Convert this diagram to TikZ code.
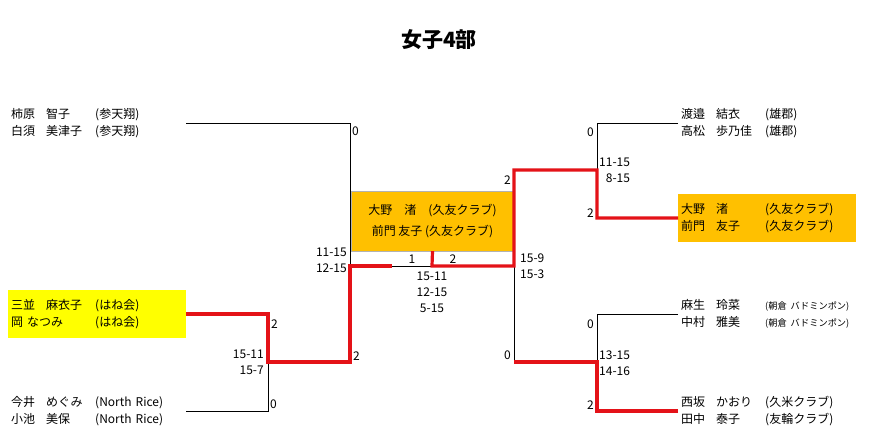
\documentclass[tikz,border=0pt]{standalone}
\usepackage{fontspec}
\setmainfont{Noto Sans CJK JP}
\usepackage{tikz}
\usetikzlibrary{positioning}

\definecolor{winred}{RGB}{228,18,24}
\definecolor{winorange}{RGB}{255,192,0}
\definecolor{winyellow}{RGB}{255,255,0}

% family name, given name, club in fixed columns
\newcommand{\entryline}[3]{\makebox[35pt][l]{#1}\makebox[49pt][l]{#2}#3}
\newcommand{\smallclub}[1]{{\fontsize{9.2}{10}\selectfont #1}}

\begin{document}
\begin{tikzpicture}[x=1pt,y=-1pt,
    player/.style={anchor=west, minimum height=48pt, text width=172pt, inner xsep=3pt, inner ysep=0pt, align=left, font=\fontsize{12}{16.5}\selectfont},
    score/.style={inner sep=1pt, font=\fontsize{12}{16}\selectfont},
    lose/.style={black, line width=0.9pt},
    win/.style={winred, line width=3.2pt}]
    \useasboundingbox (0,0) rectangle (878,435);

    % title
    \node[font=\fontsize{21}{24}\selectfont\bfseries] (title) at (439,40) {女子4部};

    % left half
    \node[player] (p1) at (8,123) {\entryline{柿原}{智子}{(参天翔)}\\\entryline{白須}{美津子}{(参天翔)}};
    \node[player, fill=winyellow] (p2) at (8,314) {\entryline{三並}{麻衣子}{(はね会)}\\\entryline{岡 なつみ}{}{(はね会)}};
    \node[player] (p3) at (8,411) {\entryline{今井}{めぐみ}{(North Rice)}\\\entryline{小池}{美保}{(North Rice)}};

    % right half
    \node[player] (p4) at (678,123) {\entryline{渡邉}{結衣}{(雄郡)}\\\entryline{高松}{歩乃佳}{(雄郡)}};
    \node[player, fill=winorange] (p5) at (678,218) {\entryline{大野}{渚}{(久友クラブ)}\\\entryline{前門}{友子}{(久友クラブ)}};
    \node[player] (p6) at (678,314) {\entryline{麻生}{玲菜}{\smallclub{(朝倉 バドミンポン)}}\\\entryline{中村}{雅美}{\smallclub{(朝倉 バドミンポン)}}};
    \node[player] (p7) at (678,411) {\entryline{西坂}{かおり}{(久米クラブ)}\\\entryline{田中}{泰子}{(友輪クラブ)}};

    % champion
    \node[draw=gray!60, fill=winorange, minimum width=162pt, minimum height=60pt, align=center, font=\fontsize{12}{21}\selectfont] (final) at (432.5,221) {大野　渚　(久友クラブ)\\前門 友子 (久友クラブ)};

    % bracket joints
    \coordinate (q1) at (268,362);
    \coordinate (s1) at (350,266);
    \coordinate (s2) at (514,266);
    \coordinate (q2) at (597,170);
    \coordinate (q3) at (597,362);
    \coordinate (fl) at (392,266);
    \coordinate (fr) at (432,266);

    % losers
    \draw[lose] (p1.east) -| (s1);
    \draw[lose] (p3.east) -| (q1);
    \draw[lose] (s1) -- (s2);
    \draw[lose] (p4.west) -| (q2);
    \draw[lose] (p6.west) -| (q3);
    \draw[lose] (s2 |- q3) -- (s2);

    % winners
    \draw[win] (p2.east) -| (q1) -| (s1) -- (fl);
    \draw[win] (p5.west) -| (q2) -| (s2) -- (fr) -- (final.south);
    \draw[win] (p7.west) -| (q3) -- (s2 |- q3);

    % games and points
    \node[score, anchor=west] (s1top) at (351,131) {0};
    \node[score, anchor=east, align=right] (s1sc) at (348,260) {11-15\\12-15};
    \node[score, anchor=west] (s1bot) at (352,356) {2};
    \node[score, anchor=west] (q1top) at (270,324) {2};
    \node[score, anchor=east, align=right] (q1sc) at (265,362) {15-11\\15-7};
    \node[score, anchor=west] (q1bot) at (269,404) {0};
    \node[score] (fl1) at (412,259) {1};
    \node[score] (fr2) at (453,259) {2};
    \node[score, align=center] (fsc) at (432,292) {15-11\\12-15\\5-15};
    \node[score, anchor=east] (s2top) at (512,180) {2};
    \node[score, anchor=west, align=left] (s2sc) at (519,266) {15-9\\15-3};
    \node[score, anchor=east] (s2bot) at (512,355) {0};
    \node[score, anchor=east] (q2top) at (595,132) {0};
    \node[score, anchor=west, align=right] (q2sc) at (598,170) {11-15\\8-15};
    \node[score, anchor=east] (q2bot) at (595,213) {2};
    \node[score, anchor=east] (q3top) at (595,324) {0};
    \node[score, anchor=west, align=left] (q3sc) at (598,363) {13-15\\14-16};
    \node[score, anchor=east] (q3bot) at (595,405) {2};
\end{tikzpicture}
\end{document}
